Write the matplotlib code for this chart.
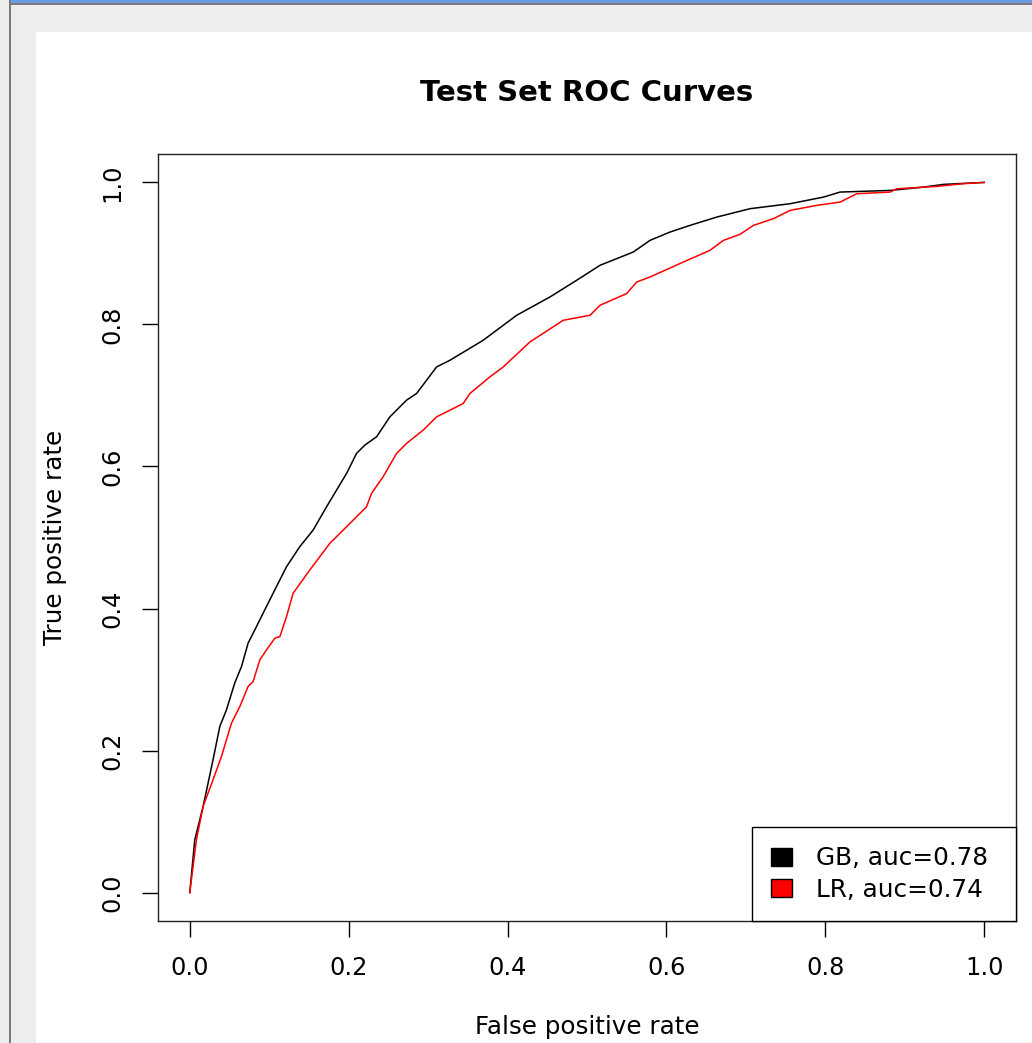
import matplotlib as mpl
mpl.use('Agg')
import matplotlib.pyplot as plt
from matplotlib.patches import Rectangle, Patch

# ROC points (false positive rate, true positive rate)
gb_fpr = [0.0, 0.0063, 0.0168, 0.0293, 0.0378, 0.0462, 0.0567, 0.0651, 0.0734, 0.0819,
          0.0923, 0.1049, 0.1218, 0.1385, 0.1553, 0.1722, 0.1848, 0.1974, 0.2099, 0.2204,
          0.2351, 0.2519, 0.2729, 0.2855, 0.3107, 0.3275, 0.3485, 0.3694, 0.4115, 0.4534,
          0.4870, 0.5164, 0.5583, 0.5793, 0.6045, 0.6297, 0.6634, 0.7053, 0.7557, 0.7976,
          0.8186, 0.8816, 0.9236, 0.9487, 1.0]
gb_tpr = [0.0, 0.0745, 0.1214, 0.1871, 0.2339, 0.2574, 0.2954, 0.3183, 0.3512, 0.3699,
          0.3934, 0.4215, 0.4589, 0.4871, 0.5105, 0.5433, 0.5668, 0.5903, 0.6184, 0.6301,
          0.6418, 0.6699, 0.6934, 0.7028, 0.7402, 0.7496, 0.7637, 0.7778, 0.8129, 0.8387,
          0.8622, 0.8833, 0.9020, 0.9184, 0.9301, 0.9395, 0.9512, 0.9630, 0.9700, 0.9793,
          0.9864, 0.9887, 0.9934, 0.9972, 1.0]

lr_fpr = [0.0, 0.0084, 0.0168, 0.0293, 0.0399, 0.0525, 0.0630, 0.0734, 0.0797, 0.0882,
          0.0966, 0.1071, 0.1134, 0.1218, 0.1301, 0.1511, 0.1763, 0.1974, 0.2225, 0.2288,
          0.2434, 0.2603, 0.2729, 0.2938, 0.3107, 0.3275, 0.3442, 0.3526, 0.3778, 0.3946,
          0.4282, 0.4702, 0.5038, 0.5164, 0.5500, 0.5626, 0.5793, 0.6213, 0.6549, 0.6717,
          0.6927, 0.7094, 0.7346, 0.7557, 0.7893, 0.8186, 0.8397, 0.8816, 0.8901, 0.9404,
          0.9739, 1.0]
lr_tpr = [0.0, 0.0745, 0.1214, 0.1589, 0.1917, 0.2387, 0.2620, 0.2902, 0.2972, 0.3277,
          0.3418, 0.3582, 0.3605, 0.3886, 0.4215, 0.4543, 0.4918, 0.5152, 0.5433, 0.5622,
          0.5855, 0.6184, 0.6325, 0.6512, 0.6699, 0.6793, 0.6887, 0.7028, 0.7262, 0.7402,
          0.7754, 0.8059, 0.8129, 0.8270, 0.8435, 0.8598, 0.8668, 0.8879, 0.9044, 0.9184,
          0.9269, 0.9395, 0.9489, 0.9606, 0.9677, 0.9723, 0.9841, 0.9864, 0.9911, 0.9944,
          0.9982, 1.0]

labels = ['GB, auc=0.78', 'LR, auc=0.74']
colors = ['black', 'red']
ticks = [0.0, 0.2, 0.4, 0.6, 0.8, 1.0]
tick_labels = ['0.0', '0.2', '0.4', '0.6', '0.8', '1.0']

W, H = 1032, 1043
plt.rcParams['font.family'] = 'DejaVu Sans'

fig = plt.figure(figsize=(W / 100, H / 100), dpi=100, facecolor='white')

def px_rect(x0, y0, x1, y1, color):
  # rectangle given in pixel coords from top-left
  fig.patches.append(Rectangle((x0 / W, 1 - y1 / H), (x1 - x0) / W, (y1 - y0) / H,
                               transform=fig.transFigure, color=color, lw=0, zorder=0))

# window chrome around the plot
px_rect(0, 0, W, 32, '#ededed')
px_rect(0, 0, 36, H, '#ededed')
px_rect(9, 0, 11, H, '#7a7a7a')
px_rect(9, 3, W, 5, '#7a7a7a')
px_rect(11, 0, W, 3, '#6b9be3')

ax_l, ax_r, ax_t, ax_b = 158, 1016, 154, 921
ax = fig.add_axes([ax_l / W, 1 - ax_b / H, (ax_r - ax_l) / W, (ax_b - ax_t) / H])
ax.plot(gb_fpr, gb_tpr, color=colors[0], lw=1.1)
ax.plot(lr_fpr, lr_tpr, color=colors[1], lw=1.1)

ax.set_xlim(-0.04, 1.04)
ax.set_ylim(-0.04, 1.04)
ax.set_xticks(ticks)
ax.set_xticklabels(tick_labels)
ax.set_yticks(ticks)
ax.set_yticklabels(tick_labels, rotation=90, va='center')
ax.tick_params(axis='both', direction='out', length=11.5, width=1, labelsize=17.3, colors='black')
ax.tick_params(axis='x', pad=14)
ax.tick_params(axis='y', pad=13)
for sp in ax.spines.values():
  sp.set_linewidth(1)
  sp.set_color('#222222')

fig.text(587 / W, 1 - 93 / H, 'Test Set ROC Curves', fontsize=21, fontweight='bold',
         ha='center', va='center')
fig.text(587 / W, 1 - 1027 / H, 'False positive rate', fontsize=17.7, ha='center', va='center')
fig.text(55 / W, 1 - 537 / H, 'True positive rate', fontsize=17.7, ha='center', va='center',
         rotation=90)

# legend box spans 751..1015 px wide, anchored to the lower right corner
leg_w = (1015 - 751) / (ax_r - ax_l)
handles = [Patch(facecolor=c, edgecolor='black', lw=1) for c in colors]
leg = ax.legend(handles, labels, loc='lower right', fontsize=17.8, fancybox=False,
                framealpha=1, edgecolor='black', borderaxespad=0, borderpad=0.78,
                handlelength=0.85, handleheight=0.75, handletextpad=0.95, labelspacing=0.3,
                bbox_to_anchor=(1 - leg_w, 0, leg_w, 0.2), mode='expand')
leg.get_frame().set_linewidth(1)

plt.savefig('out.png', dpi=100)
